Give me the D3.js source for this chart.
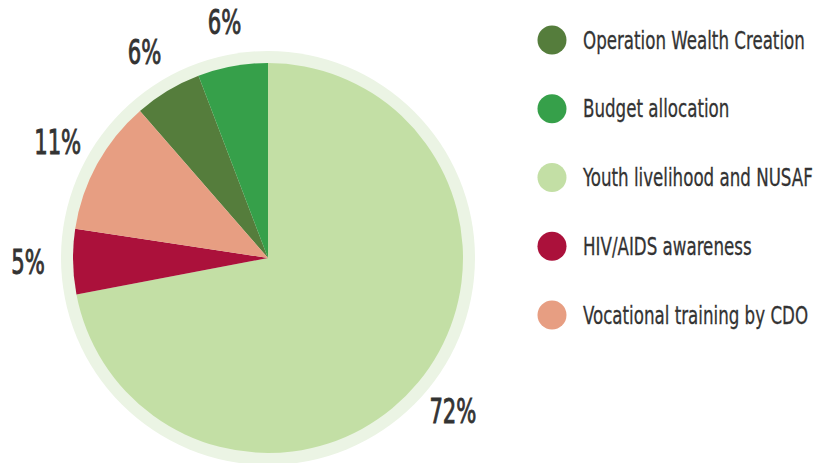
<!DOCTYPE html>
<html>
<head>
<meta charset="utf-8">
<script src="https://cdn.jsdelivr.net/npm/d3@7"></script>
<style>
  body { margin: 0; background: #ffffff; }
  text { font-family: "DejaVu Sans Condensed", "DejaVu Sans", sans-serif; fill: #333333; }
</style>
</head>
<body>
<div id="chart"></div>
<script>
// Data
// ---------------------------------------------------------------
// Legend order
const categories = [
    "Operation Wealth Creation",
    "Budget allocation",
    "Youth livelihood and NUSAF",
    "HIV/AIDS awareness",
    "Vocational training by CDO"
]
const shares = [5.6, 5.8, 72.0, 5.4, 11.2]
const colours = ["#557d3c", "#36a04a", "#c3dfa5", "#ab113b", "#e79e82"]
// Order of slices clockwise from 12 o'clock
const pieOrder = [
    "Youth livelihood and NUSAF",
    "HIV/AIDS awareness",
    "Vocational training by CDO",
    "Operation Wealth Creation",
    "Budget allocation"
]

function drawChart(container) {
    const width = 820, height = 463
    const cx = 268, cy = 258
    const radius = 195, ringRadius = 207, labelRadius = 240

    let data = categories.map((c, i) => ({name: c, value: shares[i], colour: colours[i]}))

    let svg = d3.select(container).append("svg")
        .attr("width", width)
        .attr("height", height)

    let g = svg.append("g")
        .attr("transform", "translate(" + cx + "," + cy + ")")

    // Pale ring behind the pie
    g.append("circle")
        .attr("r", ringRadius)
        .style("fill", "#ebf4e4")

    let pie = d3.pie()
        .value(d => d.value)
        .sort((a, b) => pieOrder.indexOf(a.name) - pieOrder.indexOf(b.name))

    let arc = d3.arc().innerRadius(0).outerRadius(radius)
    let labelArc = d3.arc().innerRadius(labelRadius).outerRadius(labelRadius)

    let slices = pie(data)

    g.append("g").attr("id", "slices")
        .selectAll("path")
        .data(slices)
        .enter()
        .append("path")
        .attr("d", arc)
        .style("fill", d => d.data.colour)

    // Percentage labels, squeezed horizontally to look like a condensed face
    let labels = g.append("g").attr("id", "labels")
        .selectAll("g")
        .data(slices)
        .enter()
        .append("g")

    let labelText = labels.append("text")
        .attr("text-anchor", "middle")
        .attr("dominant-baseline", "central")
        .style("font-size", "34px")
        .style("stroke", "#333333")
        .style("stroke-width", 0.9)
        .text(d => Math.round(d.data.value) + "%")

    // "72%" is about 47px wide in the reference
    let wide = labelText.filter(d => d.data.value > 50).node().getComputedTextLength()
    let labelSqueeze = 47 / wide
    labels.attr("transform", d => {
        let c = labelArc.centroid(d)
        return "translate(" + c[0] + "," + c[1] + ") scale(" + labelSqueeze + ",1)"
    })

    // Legend
    let yScale = d3.scalePoint()
        .domain(categories)
        .range([40, 315])

    let legend = svg.append("g").attr("id", "legend")
        .selectAll("g")
        .data(data)
        .enter()
        .append("g")
        .attr("transform", d => "translate(552," + yScale(d.name) + ")")

    legend.append("circle")
        .attr("r", 14.5)
        .style("fill", d => d.colour)

    let legendText = legend.append("g")
        .attr("transform", "translate(31,0)")
        .append("text")
        .attr("dominant-baseline", "central")
        .style("font-size", "25px")
        .style("stroke", "#333333")
        .style("stroke-width", 0.3)
        .text(d => d.name)

    // "Operation Wealth Creation" is about 222px wide in the reference
    let owc = legendText.filter((d, i) => i === 0).node().getComputedTextLength()
    let legendSqueeze = 222 / owc
    legendText.attr("transform", "scale(" + legendSqueeze + ",1)")
}

drawChart("#chart")
</script>
</body>
</html>
